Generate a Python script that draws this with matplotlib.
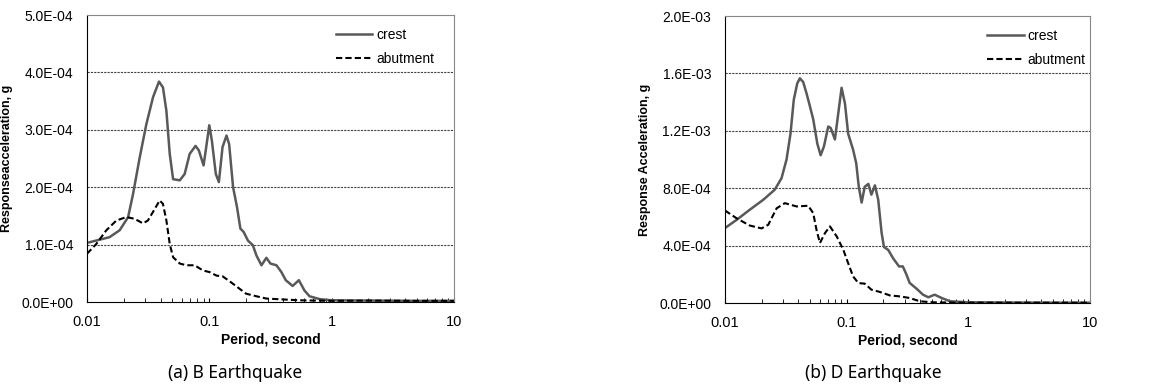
import numpy as np
import matplotlib.pyplot as plt
from matplotlib.ticker import FixedLocator, LogLocator, NullFormatter

# (a) B Earthquake
b_crest_T = [0.01, 0.0153, 0.0185, 0.0217, 0.0238, 0.027, 0.0306, 0.0347, 0.0388, 0.0418,
             0.0446, 0.0475, 0.0506, 0.0574, 0.0629, 0.0691, 0.0772, 0.0822, 0.0898, 0.0944,
             0.1, 0.105, 0.1131, 0.1198, 0.1283, 0.1383, 0.1453, 0.1565, 0.1686, 0.1795,
             0.191, 0.207, 0.227, 0.243, 0.267, 0.293, 0.316, 0.354, 0.389, 0.422,
             0.48, 0.54, 0.6, 0.66, 0.8, 1.0, 2.0, 5.0, 10.0]
b_crest = [1.03, 1.13, 1.25, 1.48, 1.88, 2.52, 3.1, 3.57, 3.84, 3.74,
           3.33, 2.58, 2.14, 2.12, 2.23, 2.58, 2.72, 2.64, 2.38, 2.70,
           3.08, 2.81, 2.23, 2.09, 2.70, 2.90, 2.75, 2.0, 1.65, 1.28,
           1.22, 1.07, 0.99, 0.81, 0.64, 0.77, 0.67, 0.64, 0.52, 0.38,
           0.28, 0.38, 0.2, 0.1, 0.05, 0.03, 0.025, 0.02, 0.02]

b_abut_T = [0.01, 0.0119, 0.0144, 0.0174, 0.021, 0.0245, 0.0287, 0.0315, 0.0358, 0.0393,
            0.0418, 0.0446, 0.0475, 0.0506, 0.0574, 0.065, 0.0759, 0.0887, 0.101, 0.1145,
            0.128, 0.147, 0.177, 0.2, 0.243, 0.293, 0.4, 0.55, 1.0, 2.0, 5.0, 10.0]
b_abut = [0.84, 1.01, 1.25, 1.42, 1.48, 1.45, 1.37, 1.42, 1.62, 1.77,
          1.71, 1.42, 1.01, 0.78, 0.67, 0.64, 0.64, 0.55, 0.52, 0.46,
          0.45, 0.36, 0.23, 0.145, 0.1, 0.06, 0.045, 0.03, 0.02, 0.025, 0.02, 0.02]

# (b) D Earthquake
d_crest_T = [0.01, 0.0125, 0.016, 0.0207, 0.0257, 0.0292, 0.0321, 0.0346, 0.0368, 0.0393,
             0.0413, 0.044, 0.0469, 0.05, 0.0532, 0.0575, 0.0612, 0.0651, 0.0707, 0.074,
             0.0802, 0.0854, 0.091, 0.097, 0.103, 0.113, 0.12, 0.126, 0.133, 0.141,
             0.151, 0.16, 0.171, 0.182, 0.194, 0.203, 0.22, 0.242, 0.27, 0.29,
             0.31, 0.33, 0.376, 0.425, 0.47, 0.53, 0.605, 0.71, 1.0, 3.0, 10.0]
d_crest = [0.522, 0.58, 0.65, 0.72, 0.79, 0.87, 1.0, 1.18, 1.415, 1.53,
           1.566, 1.54, 1.46, 1.37, 1.28, 1.11, 1.03, 1.09, 1.23, 1.22,
           1.14, 1.32, 1.50, 1.39, 1.18, 1.07, 0.975, 0.81, 0.70, 0.81,
           0.83, 0.755, 0.82, 0.72, 0.49, 0.39, 0.37, 0.31, 0.255, 0.255,
           0.20, 0.14, 0.10, 0.058, 0.04, 0.058, 0.035, 0.012, 0.005, 0.003, 0.002]

d_abut_T = [0.01, 0.0125, 0.016, 0.02, 0.0227, 0.0266, 0.0311, 0.0388, 0.0484, 0.0532,
            0.0566, 0.0604, 0.0664, 0.073, 0.083, 0.094, 0.103, 0.113, 0.125, 0.141,
            0.16, 0.188, 0.227, 0.275, 0.33, 0.4, 0.51, 1.0, 10.0]
d_abut = [0.645, 0.59, 0.54, 0.52, 0.545, 0.66, 0.696, 0.673, 0.678, 0.626,
          0.51, 0.418, 0.487, 0.534, 0.464, 0.371, 0.278, 0.186, 0.139, 0.135,
          0.093, 0.077, 0.053, 0.046, 0.035, 0.012, 0.005, 0.002, 0.002]

plt.rcParams['font.family'] = ['Liberation Sans', 'DejaVu Sans']

fig = plt.figure(figsize=(11.58, 3.87), dpi=100)
ax1 = fig.add_axes([0.0751, 0.2196, 0.3169, 0.7416])
ax2 = fig.add_axes([0.626, 0.217, 0.3152, 0.7416])


def style(ax, crest_T, crest, abut_T, abut, scale, ymax, step, ylabel, leg_x):
    ax.plot(crest_T, np.array(crest) * scale, color='#595959', lw=1.8, label='crest',
            solid_joinstyle='round')
    ax.plot(abut_T, np.array(abut) * scale, color='black', lw=1.5, ls=(0, (3, 1.5)),
            label='abutment', dash_joinstyle='round')
    ax.set_xscale('log')
    ax.set_xlim(0.01, 10)
    ax.set_ylim(0, ymax)
    ticks = np.arange(0, ymax + step / 2, step)
    ax.yaxis.set_major_locator(FixedLocator(ticks))
    ax.set_yticklabels(['%.1E' % t for t in ticks], fontsize=10)
    ax.set_xticks([0.01, 0.1, 1, 10])
    ax.set_xticklabels(['0.01', '0.1', '1', '10'], fontsize=10.5)
    ax.xaxis.set_minor_locator(LogLocator(base=10, subs=np.arange(2, 10)))
    ax.xaxis.set_minor_formatter(NullFormatter())
    ax.tick_params(axis='x', which='both', direction='in', length=3, pad=9)
    ax.tick_params(axis='y', length=0, pad=10)
    for t in ticks[1:-1]:
        ax.axhline(t, color='#444444', lw=0.8, ls=(0, (2, 1)), zorder=0)
    ax.spines['top'].set_color('#888888')
    ax.spines['right'].set_color('#888888')
    ax.set_xlabel('Period, second', fontsize=10, fontweight='bold', labelpad=3)
    ax.set_ylabel(ylabel, fontsize=9, fontweight='bold', labelpad=6)
    ax.legend(loc='upper left', bbox_to_anchor=(leg_x, 1.0), frameon=False,
              fontsize=10, handlelength=2.6, handletextpad=0.3, labelspacing=0.75)


style(ax1, b_crest_T, b_crest, b_abut_T, b_abut, 1e-4, 5e-4, 1e-4,
      'Responseacceleration, g', 0.645)
style(ax2, d_crest_T, d_crest, d_abut_T, d_abut, 1e-3, 2e-3, 4e-4,
      'Response Acceleration, g', 0.685)

fig.text(0.203, 0.036, '(a) B Earthquake', ha='center', va='center', fontsize=12.5,
         family=['Noto Sans', 'DejaVu Sans'])
fig.text(0.754, 0.036, '(b) D Earthquake', ha='center', va='center', fontsize=12.5,
         family=['Noto Sans', 'DejaVu Sans'])

fig.savefig('out.png', dpi=100)
